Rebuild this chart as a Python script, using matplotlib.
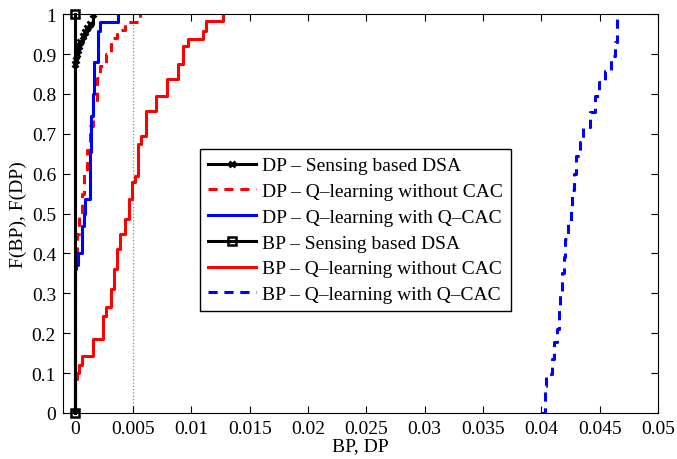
import numpy as np
import matplotlib
matplotlib.use('Agg')
import matplotlib.pyplot as plt
from matplotlib import rcParams

rcParams['font.family'] = ['Liberation Serif', 'DejaVu Serif']
rcParams['font.size'] = 14

# DP - Sensing based DSA (black, x markers)
dp_sense_x = [0, 0, 0.0001, 0.0002, 0.0003, 0.0004, 0.0005, 0.0007, 0.0009, 0.0011, 0.0013, 0.0016]
dp_sense_y = [0, 0.875, 0.885, 0.90, 0.91, 0.92, 0.93, 0.945, 0.955, 0.965, 0.975, 1.0]

# DP - Q-learning without CAC (red dashed)
dp_qnc_x = [0, 0, 0.0002, 0.0004, 0.0006, 0.0008, 0.0011, 0.0013, 0.0016, 0.0019, 0.0022,
            0.0027, 0.0031, 0.0036, 0.0043, 0.0056]
dp_qnc_y = [0, 0.38, 0.45, 0.50, 0.55, 0.60, 0.66, 0.72, 0.78, 0.84, 0.87,
            0.90, 0.94, 0.96, 0.98, 1.0]

# DP - Q-learning with Q-CAC (blue solid)
dp_qcac_x = [0, 0, 0.0001, 0.0003, 0.0006, 0.0008, 0.0009, 0.0013, 0.00144, 0.0016, 0.0017,
             0.0020, 0.00215, 0.0037]
dp_qcac_y = [0, 0.36, 0.37, 0.40, 0.47, 0.50, 0.536, 0.654, 0.744, 0.80, 0.88,
             0.957, 0.98, 1.0]

# BP - Sensing based DSA (black, square markers)
bp_sense_x = [0, 0]
bp_sense_y = [0, 1]

# BP - Q-learning without CAC (red solid)
bp_qnc_x = [0, 0, 0.0002, 0.0004, 0.0006, 0.0016, 0.0024, 0.0027, 0.0031, 0.0034, 0.0036,
            0.0039, 0.0043, 0.0047, 0.0049, 0.0052, 0.0054, 0.0057, 0.0061, 0.0070,
            0.0079, 0.0089, 0.0093, 0.0097, 0.0110, 0.0113, 0.0127]
bp_qnc_y = [0, 0.085, 0.10, 0.12, 0.143, 0.185, 0.243, 0.265, 0.31, 0.36, 0.41,
            0.45, 0.486, 0.536, 0.578, 0.595, 0.674, 0.695, 0.758, 0.795,
            0.837, 0.875, 0.92, 0.937, 0.958, 0.983, 1.0]

# BP - Q-learning with Q-CAC (blue dashed)
bp_qcac_x = [0.0400, 0.0403, 0.0404, 0.0409, 0.0411, 0.0413, 0.0415, 0.0416, 0.04175, 0.0419,
             0.0420, 0.0423, 0.0425, 0.0426, 0.04276, 0.0430, 0.0433, 0.0436, 0.0442,
             0.0446, 0.0449, 0.04545, 0.0460, 0.0463, 0.04645, 0.0465]
bp_qcac_y = [0.0, 0.068, 0.098, 0.135, 0.178, 0.21, 0.26, 0.30, 0.35, 0.39,
             0.436, 0.478, 0.519, 0.56, 0.60, 0.644, 0.68, 0.716, 0.754,
             0.795, 0.83, 0.857, 0.895, 0.93, 0.98, 1.0]

xticks = [0, 0.005, 0.01, 0.015, 0.02, 0.025, 0.03, 0.035, 0.04, 0.045, 0.05]
xtick_labels = ['0', '0.005', '0.01', '0.015', '0.02', '0.025', '0.03', '0.035', '0.04', '0.045', '0.05']
yticks = [0, 0.1, 0.2, 0.3, 0.4, 0.5, 0.6, 0.7, 0.8, 0.9, 1]
ytick_labels = ['0', '0.1', '0.2', '0.3', '0.4', '0.5', '0.6', '0.7', '0.8', '0.9', '1']

fig = plt.figure(figsize=(6.77, 4.6), dpi=100)
ax = fig.add_axes([0.093, 0.1, 0.879, 0.867])

lw = 2.2
ax.axvline(0.005, color='#888888', linestyle=':', linewidth=0.9, zorder=0)

ax.plot(dp_sense_x, dp_sense_y, color='k', lw=lw, marker='x', ms=5, mew=2,
        drawstyle='steps-post', label='DP – Sensing based DSA')
ax.plot(dp_qnc_x, dp_qnc_y, color='r', lw=lw, ls=(0, (3, 2.2)),
        drawstyle='steps-post', label='DP – Q–learning without CAC')
ax.plot(dp_qcac_x, dp_qcac_y, color='b', lw=lw,
        drawstyle='steps-post', label='DP – Q–learning with Q–CAC')
ax.plot(bp_sense_x, bp_sense_y, color='k', lw=lw, marker='s', ms=6, mew=1.8, mfc='none',
        label='BP – Sensing based DSA', clip_on=False, zorder=5)
ax.plot(bp_qnc_x, bp_qnc_y, color='r', lw=lw,
        drawstyle='steps-post', label='BP – Q–learning without CAC')
ax.plot(bp_qcac_x, bp_qcac_y, color='b', lw=lw, ls=(0, (3, 2.2)),
        drawstyle='steps-post', label='BP – Q–learning with Q–CAC')

ax.set_xlim(-0.001, 0.05)
ax.set_ylim(0, 1)
ax.set_xticks(xticks)
ax.set_xticklabels(xtick_labels)
ax.set_yticks(yticks)
ax.set_yticklabels(ytick_labels)
ax.tick_params(direction='in', top=True, right=True, length=5, width=0.8, pad=5)
ax.set_xlabel('BP, DP', labelpad=0)
ax.set_ylabel('F(BP), F(DP)', labelpad=3)

leg = ax.legend(loc='upper left', bbox_to_anchor=(0.23, 0.662), fancybox=False,
                edgecolor='k', framealpha=1, handlelength=2.5, handletextpad=0.3,
                labelspacing=0.42, borderpad=0.4, borderaxespad=0)
leg.get_frame().set_linewidth(1.0)

fig.savefig('out.png', dpi=100)
